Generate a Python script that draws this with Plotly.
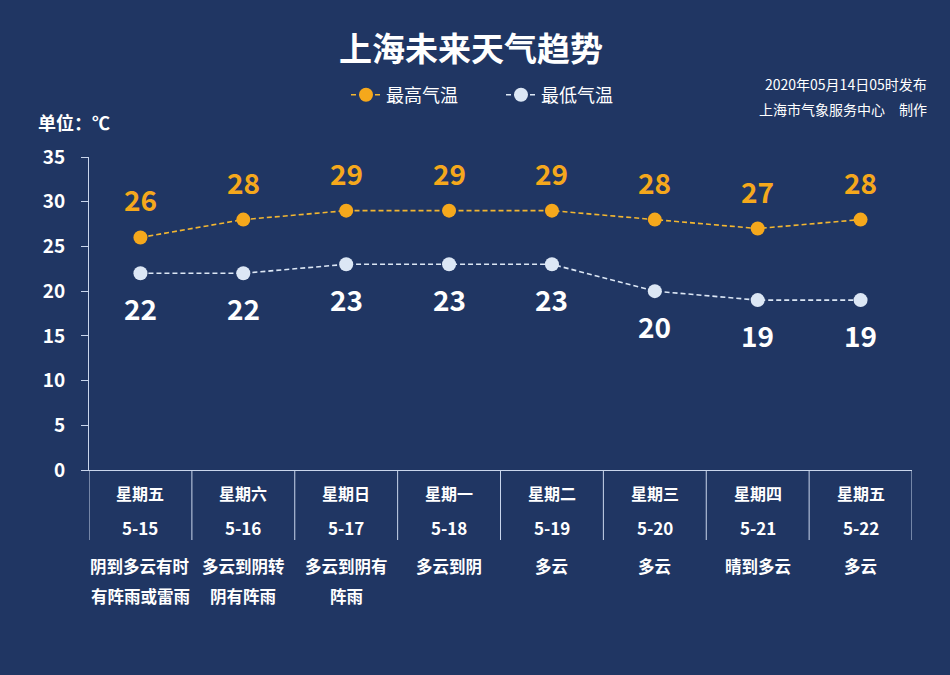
import plotly.graph_objects as go

days = ["星期五", "星期六", "星期日", "星期一", "星期二", "星期三", "星期四", "星期五"]
dates = ["5-15", "5-16", "5-17", "5-18", "5-19", "5-20", "5-21", "5-22"]
weather_line1 = ["阴到多云有时", "多云到阴转", "多云到阴有", "多云到阴", "多云", "多云", "晴到多云", "多云"]
weather_line2 = ["有阵雨或雷雨", "阴有阵雨", "阵雨", "", "", "", "", ""]
high = [26, 28, 29, 29, 29, 28, 27, 28]
low = [22, 22, 23, 23, 23, 20, 19, 19]

BG = "#203663"
ORANGE = "#f5a81c"
LIGHT = "#dce7f5"
AXIS = "#c9d6ec"
FONT = "Noto Sans CJK SC"

xs = list(range(len(days)))

fig = go.Figure()
fig.add_trace(go.Scatter(
    x=xs, y=high, name="最高气温", mode="lines+markers",
    line=dict(color="#f2b631", width=1.6, dash="5px,3px"),
    marker=dict(color=ORANGE, size=14),
))
fig.add_trace(go.Scatter(
    x=xs, y=low, name="最低气温", mode="lines+markers",
    line=dict(color=LIGHT, width=1.6, dash="5px,3px"),
    marker=dict(color=LIGHT, size=14),
))

fig_h = 313.0
def py(px):  # pixel from top -> paper
    return 1 + (157 - px) / fig_h
def px_(x):
    return (x - 89) / 823.0

ann = []
for i in xs:
    ann.append(dict(x=i, y=high[i], xref="x", yref="y", text=f"<b>{high[i]}</b>", showarrow=False,
                    yshift=38, yanchor="middle", font=dict(size=28, color=ORANGE, family=FONT)))
    ann.append(dict(x=i, y=low[i], xref="x", yref="y", text=f"<b>{low[i]}</b>", showarrow=False,
                    yshift=-35, yanchor="middle", font=dict(size=28, color="white", family=FONT)))
    ann.append(dict(x=i, y=0, xref="x", yref="paper", text=f"<b>{days[i]}</b>", showarrow=False,
                    yanchor="middle", yshift=-23, font=dict(size=16, color="white", family=FONT)))
    ann.append(dict(x=i, y=0, xref="x", yref="paper", text=f"<b>{dates[i]}</b>", showarrow=False,
                    yanchor="middle", yshift=-57, font=dict(size=17, color="white", family=FONT)))
    ann.append(dict(x=i, y=0, xref="x", yref="paper", text=f"<b>{weather_line1[i]}</b>", showarrow=False,
                    yanchor="middle", yshift=-96, font=dict(size=16.5, color="white", family=FONT)))
    if weather_line2[i]:
        ann.append(dict(x=i, y=0, xref="x", yref="paper", text=f"<b>{weather_line2[i]}</b>",
                        showarrow=False, yanchor="middle", yshift=-126,
                        font=dict(size=16.5, color="white", family=FONT)))

ann.append(dict(x=px_(471), y=py(47), xref="paper", yref="paper", text="<b>上海未来天气趋势</b>",
                showarrow=False, xanchor="center", yanchor="middle",
                font=dict(size=33, color="white", family=FONT)))
ann.append(dict(x=px_(929), y=py(84), xref="paper", yref="paper", text="2020年05月14日05时发布",
                showarrow=False, xanchor="right", yanchor="middle",
                font=dict(size=14, color="white", family=FONT)))
ann.append(dict(x=px_(929), y=py(109), xref="paper", yref="paper", text="上海市气象服务中心　制作",
                showarrow=False, xanchor="right", yanchor="middle",
                font=dict(size=14, color="white", family=FONT)))
ann.append(dict(x=px_(36), y=py(122), xref="paper", yref="paper", text="<b>单位：℃</b>",
                showarrow=False, xanchor="left", yanchor="middle",
                font=dict(size=18, color="white", family=FONT)))

shapes = []
for b in range(len(days) + 1):
    shapes.append(dict(type="line", xref="x", yref="paper", x0=b - 0.5, x1=b - 0.5,
                       y0=0, y1=-70 / fig_h, line=dict(color=AXIS, width=1)))

fig.update_layout(
    width=950, height=675,
    paper_bgcolor=BG, plot_bgcolor=BG,
    margin=dict(l=89, r=38, t=157, b=205),
    font=dict(family=FONT, color="white"),
    showlegend=True,
    legend=dict(orientation="h", x=px_(346), y=py(95), xanchor="left", yanchor="middle",
                font=dict(size=18, color="white", family=FONT), bgcolor="rgba(0,0,0,0)",
                itemwidth=30, entrywidth=110),
    annotations=ann,
    shapes=shapes,
    xaxis=dict(range=[-0.5, 7.5], showgrid=False, zeroline=False, showticklabels=False,
               showline=True, linecolor=AXIS, linewidth=1, ticks=""),
    yaxis=dict(range=[0, 35], dtick=5, showgrid=False, zeroline=False,
               showline=True, linecolor=AXIS, linewidth=1, ticks="outside", ticklen=7,
               tickcolor=AXIS, tickfont=dict(size=19, color="white", family=FONT),
               tickprefix="<b>", ticksuffix="</b>", ticklabelstandoff=12),
)

fig.write_html("out.html")
